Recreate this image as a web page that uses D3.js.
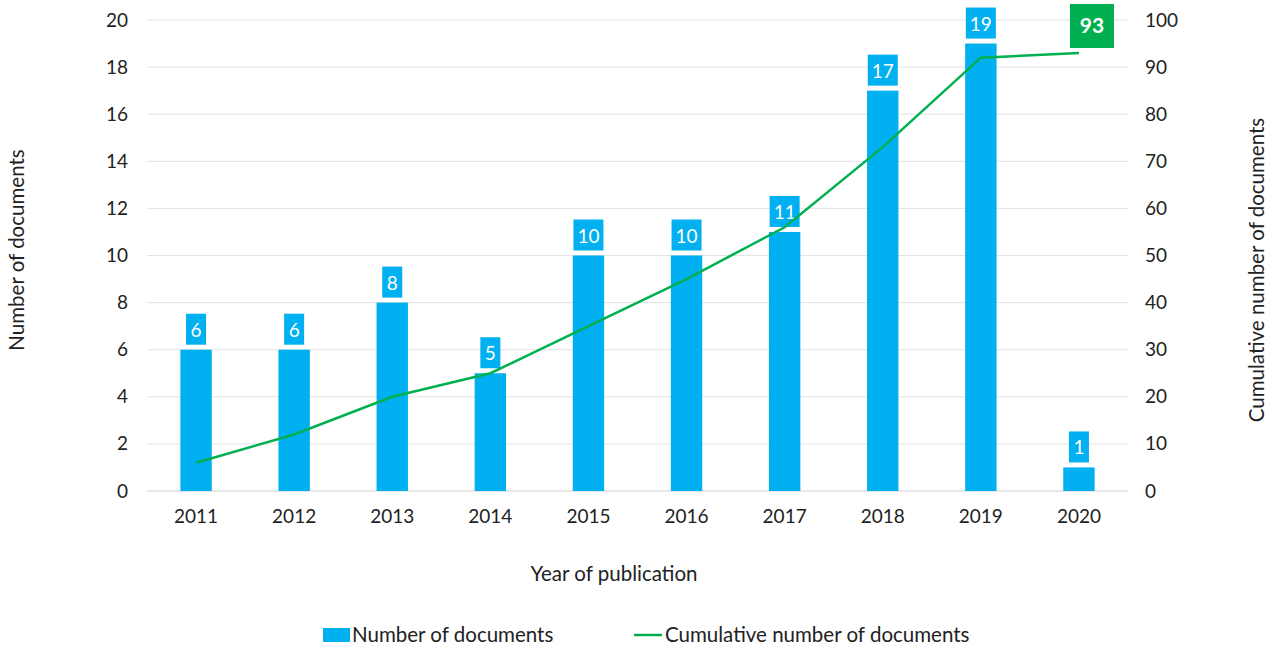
<!DOCTYPE html>
<html><head><meta charset="utf-8">
<script src="https://cdn.jsdelivr.net/npm/d3@7"></script>
<style>body{margin:0;background:#fff;} text{font-family:"Lato","Open Sans",sans-serif;}</style>
</head><body>
<svg id="c" width="1277" height="651"></svg>
<script>
const years = ["2011","2012","2013","2014","2015","2016","2017","2018","2019","2020"];
const docs = [6,6,8,5,10,10,11,17,19,1];
const cumulative = [6,12,20,25,35,45,56,73,92,93];
const leftTicks = [0,2,4,6,8,10,12,14,16,18,20];
const rightTicks = [0,10,20,30,40,50,60,70,80,90,100];

const blue = "#00B0F0", green = "#00B050";
const svg = d3.select("#c");
const L = 147, R = 1128, T = 20, B = 491;
const x = d3.scaleBand().domain(years).range([L,R]).paddingInner(0.68).paddingOuter(0.34);
const y = d3.scaleLinear().domain([0,20]).range([B,T]);
const y2 = d3.scaleLinear().domain([0,100]).range([B,T]);

// gridlines
svg.append("g").selectAll("line").data(leftTicks).join("line")
  .attr("x1",L).attr("x2",R).attr("y1",d=>y(d)).attr("y2",d=>y(d))
  .attr("stroke",d=>d===0?"#d0d0d0":"#e3e3e3").attr("stroke-width",1);

// left axis
const la = svg.append("g").attr("transform",`translate(${L-19},0)`)
  .call(d3.axisLeft(y).tickValues(leftTicks).tickSize(0).tickPadding(0));
la.select(".domain").remove();
la.selectAll("text").attr("font-size",19).attr("fill","#222").style("font-family","Lato");

// right axis
const ra = svg.append("g").attr("transform",`translate(${R+17},0)`)
  .call(d3.axisRight(y2).tickValues(rightTicks).tickSize(0).tickPadding(0));
ra.select(".domain").remove();
ra.selectAll("text").attr("font-size",19).attr("fill","#222").style("font-family","Lato");

// x axis
const xa = svg.append("g").attr("transform",`translate(0,${B+18})`)
  .call(d3.axisBottom(x).tickSize(0).tickPadding(0));
xa.select(".domain").remove();
xa.selectAll("text").attr("font-size",19).attr("fill","#222").attr("dy","0.75em").style("font-family","Lato");

// bars
svg.append("g").selectAll("rect").data(docs).join("rect")
  .attr("x",(d,i)=>x(years[i])).attr("width",x.bandwidth())
  .attr("y",d=>y(d)).attr("height",d=>B-y(d)).attr("fill",blue);

// bar labels
const lbl = svg.append("g").selectAll("g").data(docs).join("g")
  .attr("transform",(d,i)=>`translate(${x(years[i])+x.bandwidth()/2},${y(d)-5})`);
lbl.append("rect")
  .attr("x",d=>d>=10?-15:-10).attr("width",d=>d>=10?30:20)
  .attr("y",-31).attr("height",31).attr("fill",blue);
lbl.append("text").attr("text-anchor","middle").attr("y",-8)
  .attr("font-size",19).attr("fill","#fff").text(d=>d);

// line
const line = d3.line().x((d,i)=>x(years[i])+x.bandwidth()/2).y(d=>y2(d));
svg.append("path").datum(cumulative).attr("d",line)
  .attr("fill","none").attr("stroke",green).attr("stroke-width",2.5);

// final label
const li = cumulative.length-1;
const fx = x(years[li])+x.bandwidth()/2, fy = y2(cumulative[li]);
svg.append("rect").attr("x",fx-9).attr("y",fy-49).attr("width",44).attr("height",44).attr("fill",green);
svg.append("text").attr("x",fx+13).attr("y",fy-20).attr("text-anchor","middle")
  .attr("font-size",21).attr("font-weight","bold").attr("fill","#fff").text(cumulative[li]);

// axis titles
svg.append("text").attr("transform","translate(24,250) rotate(-90)").attr("text-anchor","middle")
  .attr("font-size",20.5).attr("fill","#222").text("Number of documents");
svg.append("text").attr("transform","translate(1264,270) rotate(-90)").attr("text-anchor","middle")
  .attr("font-size",20.5).attr("fill","#222").text("Cumulative number of documents");
svg.append("text").attr("x",614).attr("y",581).attr("text-anchor","middle")
  .attr("font-size",20.5).attr("fill","#222").text("Year of publication");

// legend
svg.append("rect").attr("x",323).attr("y",628).attr("width",27).attr("height",14).attr("fill",blue);
svg.append("text").attr("x",352).attr("y",642).attr("font-size",20.5).attr("fill","#222").text("Number of documents");
svg.append("line").attr("x1",634).attr("x2",662).attr("y1",635).attr("y2",635).attr("stroke",green).attr("stroke-width",2.5);
svg.append("text").attr("x",665).attr("y",642).attr("font-size",20.5).attr("fill","#222").text("Cumulative number of documents");
</script>
</body></html>
